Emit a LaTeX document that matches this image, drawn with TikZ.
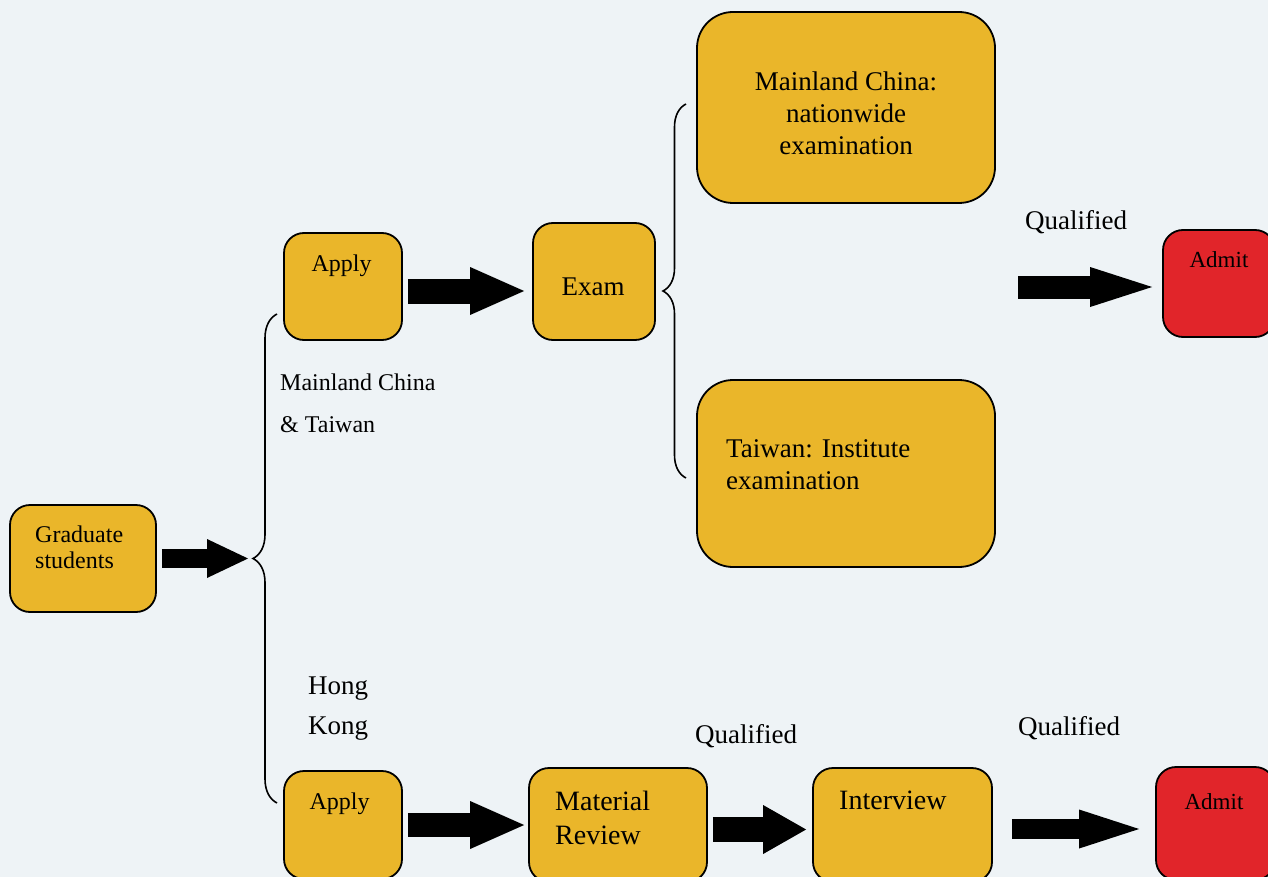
\documentclass[tikz,border=0pt]{standalone}
\usepackage{fontspec}
\setmainfont{Liberation Serif}
\usetikzlibrary{arrows.meta,decorations.pathreplacing,positioning}
\definecolor{paper}{HTML}{EEF3F6}
\definecolor{gold}{HTML}{EAB62A}
\definecolor{admitred}{HTML}{E1252A}
\tikzset{
	stage/.style={rectangle,draw=black,line width=1.8pt,rounded corners=20pt,fill=gold,inner sep=0pt},
	fat/.style n args={3}{line width=#1,-{Triangle[length=#2,width=#3,line width=0pt]}},
	curly/.style={decorate,decoration={brace,amplitude=#1},line width=1.6pt}}

\begin{document}
\begin{tikzpicture}[x=1pt,y=-1pt]
	
	\tikzstyle{big stage}=[stage,rounded corners=36pt]
	\tikzstyle{goal}=[stage,fill=admitred]
	\tikzstyle{small}=[font=\fontsize{24}{26}\selectfont,inner sep=0pt]
	\tikzstyle{large}=[font=\fontsize{27}{32}\selectfont,inner sep=0pt]
	\tikzstyle{tiny}=[font=\fontsize{23}{26}\selectfont,inner sep=0pt]
	
	\fill[paper] (0,0) rectangle (1268,877);
	\useasboundingbox (0,0) rectangle (1268,877);
	
	% boxes
	\node[stage,minimum width=146pt,minimum height=107pt] (grad) at (83,558.5) {};
	\node[stage,minimum width=118pt,minimum height=107pt] (apply1) at (343,286.5) {};
	\node[stage,minimum width=122pt,minimum height=117pt] (exam) at (594,281.5) {};
	\node[big stage,minimum width=298pt,minimum height=191pt] (mc) at (846,107.5) {};
	\node[big stage,minimum width=298pt,minimum height=187pt] (tw) at (846,473.5) {};
	\node[goal,minimum width=112pt,minimum height=107pt] (admit1) at (1219,283.5) {};
	
	\node[stage,minimum width=118pt,minimum height=108pt] (apply2) at (343,825) {};
	\node[stage,minimum width=178pt,minimum height=114pt] (material) at (618,825) {};
	\node[stage,minimum width=179pt,minimum height=114pt] (interview) at (902.5,825) {};
	\node[goal,minimum width=119pt,minimum height=113pt] (admit2) at (1215.5,823.5) {};
	
	% texts
	\node[small,anchor=north west,align=left] (grad txt) at (35,525.6) {Graduate\\students};
	\node[small,anchor=base] (apply1 txt) at (341.5,272) {Apply};
	\node[large,anchor=base] (exam txt) at (593,295) {Exam};
	\node[large,anchor=north,align=center] (mc txt) at (846,71.6) {Mainland China:\\nationwide\\examination};
	\node[large,anchor=north west,align=left] (tw txt) at (726,439.6) {Taiwan: Institute\\examination};
	\node[tiny,anchor=base] (admit1 txt) at (1219,267) {Admit};
	\node[large,anchor=base west] (q1 txt) at (1025,230) {Qualified};
	
	\node[font=\fontsize{24}{42}\selectfont,inner sep=0pt,anchor=north west,align=left] (mctw txt) at (280,373.6) {Mainland China\\\& Taiwan};
	\node[font=\fontsize{27}{40}\selectfont,inner sep=0pt,anchor=north west,align=left] (hk txt) at (308,677.1) {Hong\\Kong};
	
	\node[small,anchor=base] (apply2 txt) at (339.5,809) {Apply};
	\node[font=\fontsize{28}{34}\selectfont,inner sep=0pt,anchor=north west,align=left] (material txt) at (555,790.9) {Material\\Review};
	\node[font=\fontsize{28}{34}\selectfont,inner sep=0pt,anchor=base west] (interview txt) at (839,809) {Interview};
	\node[large,anchor=base west] (q2 txt) at (695,743) {Qualified};
	\node[large,anchor=base west] (q3 txt) at (1018,735) {Qualified};
	\node[tiny,anchor=base] (admit2 txt) at (1214,809) {Admit};
	
	% braces
	\coordinate (b1top) at (277,314);
	\coordinate (b1bot) at (277,803);
	\coordinate (b1tip) at (253,558.5);
	\coordinate (b2top) at (686,104);
	\coordinate (b2bot) at (686,478);
	\draw[curly=24pt] (b1bot) -- (b1top);
	\draw[curly=23pt] (b2bot) -- (b2top);
	
	% arrows
	\coordinate (q1 start) at (1018,287);
	\draw[fat={19pt}{41pt}{39pt},shorten <=5pt,shorten >=5pt] (grad.east) -- (b1tip);
	\draw[fat={25pt}{54pt}{48pt}] ([xshift=5pt,yshift=-4.5pt]apply1.east) -- ([xshift=-8pt,yshift=-9.5pt]exam.west);
	\draw[fat={23pt}{62pt}{40pt}] (q1 start) -- ([xshift=-10pt,yshift=-3.5pt]admit1.west);
	\draw[fat={24pt}{54pt}{48pt},shorten <=5pt,shorten >=4pt] (apply2) -- (material);
	\draw[fat={25pt}{43pt}{49pt}] ([xshift=5pt,yshift=-4.5pt]material.east) -- ([xshift=-6pt,yshift=-4.5pt]interview.west);
	\draw[fat={20pt}{60pt}{39pt}] ([xshift=19pt,yshift=-4pt]interview.east) -- ([xshift=-16pt,yshift=-5.5pt]admit2.west);
	
\end{tikzpicture}
\end{document}
